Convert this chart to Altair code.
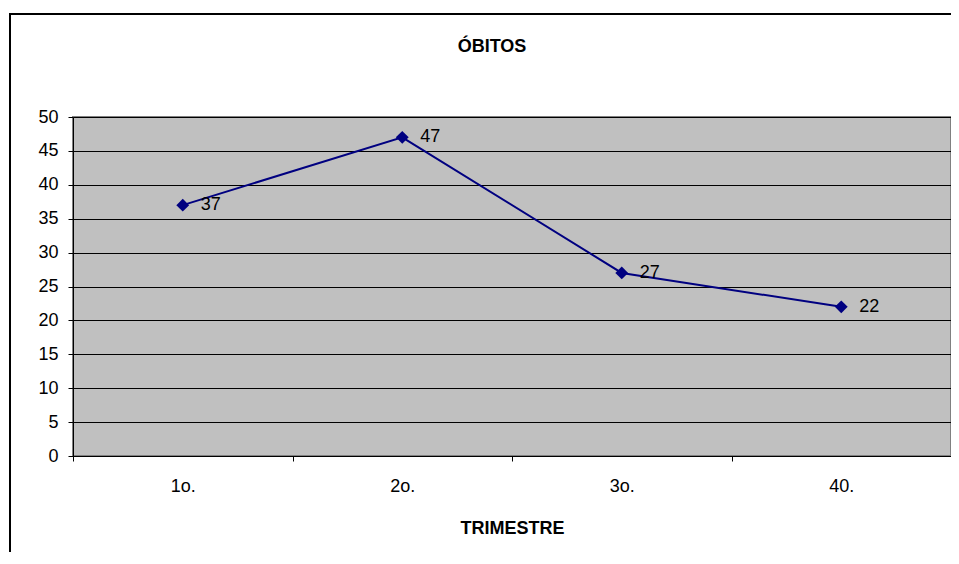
import altair as alt
import pandas as pd

trimestres = ["1o.", "2o.", "3o.", "40."]
obitos = [37, 47, 27, 22]
y_ticks = [0, 5, 10, 15, 20, 25, 30, 35, 40, 45, 50]

df = pd.DataFrame({"trimestre": trimestres, "obitos": obitos})
FONT = "Liberation Sans"

x_enc = alt.X(
    "trimestre:N",
    sort=trimestres,
    scale=alt.Scale(paddingInner=0, paddingOuter=0),
    axis=alt.Axis(
        title="TRIMESTRE",
        titleFont=FONT,
        titleFontSize=18,
        titleFontWeight="bold",
        titleColor="black",
        titlePadding=24,
        labelAngle=0,
        labelFont=FONT,
        labelFontSize=18,
        labelColor="black",
        labelPadding=16,
        tickBand="extent",
        tickSize=5,
        tickColor="black",
        domainColor="black",
        grid=False,
    ),
)
y_enc = alt.Y(
    "obitos:Q",
    scale=alt.Scale(domain=[0, 50], nice=False),
    axis=alt.Axis(
        title=None,
        values=y_ticks,
        labelFont=FONT,
        labelFontSize=18,
        labelColor="black",
        labelPadding=10,
        tickSize=5,
        tickColor="black",
        domainColor="black",
        grid=True,
        gridColor="black",
        gridWidth=1,
        gridOpacity=1,
    ),
)

base = alt.Chart(df)
line = base.mark_line(color="#000080", strokeWidth=2).encode(x=x_enc, y=y_enc)
pts = base.mark_point(shape="diamond", filled=True, size=165, color="#000080", opacity=1).encode(
    x=x_enc, y=y_enc
)
labels = base.mark_text(
    align="left", baseline="middle", dx=18, dy=0, fontSize=18, font=FONT, color="black"
).encode(x=x_enc, y=y_enc, text="obitos:Q")

one = alt.Chart(pd.DataFrame({"a": [0]}))
border_left = one.mark_rule(color="black", strokeWidth=2).encode(
    x=alt.value(-63), y=alt.value(-103), y2=alt.value(450)
)
border_top = one.mark_rule(color="black", strokeWidth=2).encode(
    x=alt.value(-64), x2=alt.value(900), y=alt.value(-103)
)

chart = (
    alt.layer(border_left, border_top, line, pts, labels)
    .properties(
        width=878,
        height=339,
        padding={"left": 65, "top": 109, "right": 0, "bottom": 96},
        autosize=alt.AutoSizeParams(type="none"),
        title=alt.TitleParams(
            "ÓBITOS",
            font=FONT,
            fontSize=18,
            fontWeight="bold",
            color="black",
            anchor="middle",
            dx=-20,
            baseline="alphabetic",
            offset=-57,
        ),
    )
    .configure(background="white")
    .configure_view(fill="#C0C0C0", stroke="#808080", strokeWidth=2)
)

chart.save("out.html", embed_options={"renderer": "svg", "actions": False})
